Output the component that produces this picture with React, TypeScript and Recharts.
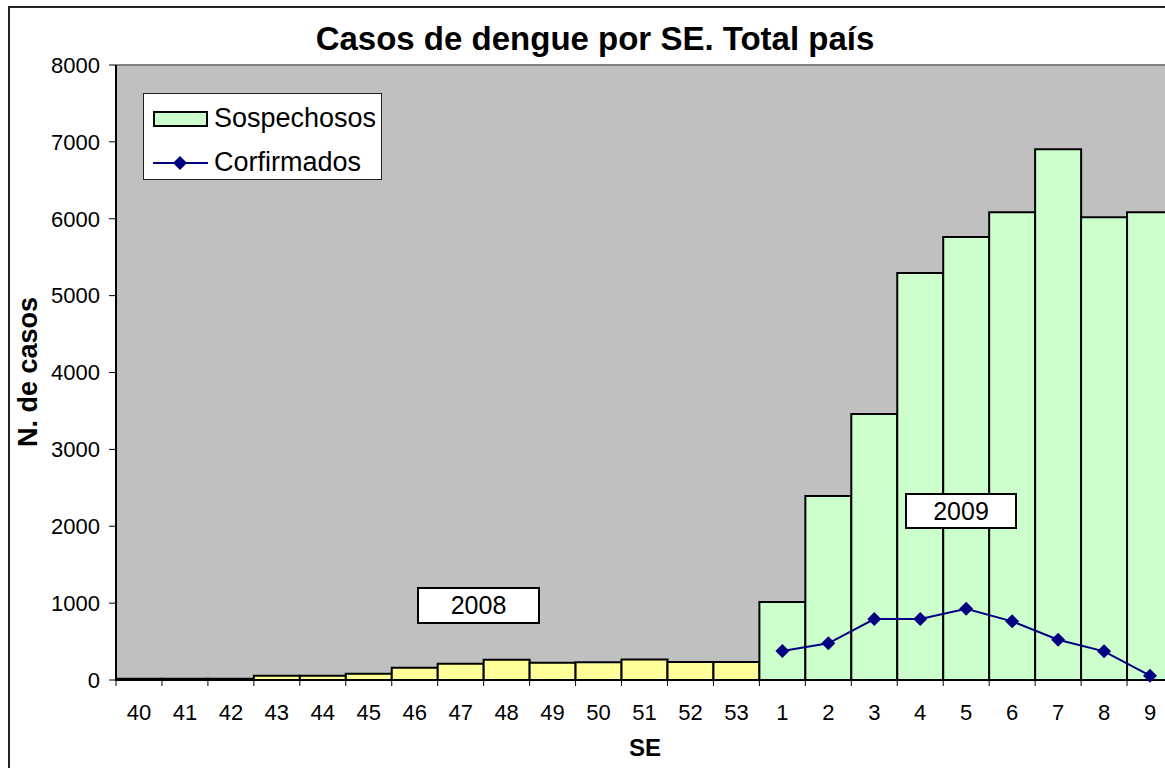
import { ComposedChart, Bar, Line, XAxis, YAxis, CartesianGrid, ReferenceLine, Cell } from 'recharts'

const weeks = ['40', '41', '42', '43', '44', '45', '46', '47', '48', '49', '50', '51', '52', '53', '1', '2', '3', '4', '5', '6', '7', '8', '9']
const years = ['2008', '2008', '2008', '2008', '2008', '2008', '2008', '2008', '2008', '2008', '2008', '2008', '2008', '2008', '2009', '2009', '2009', '2009', '2009', '2009', '2009', '2009', '2009']
const sospechosos = [15, 15, 15, 56, 56, 82, 160, 212, 262, 225, 230, 268, 234, 234, 1014, 2393, 3459, 5293, 5761, 6086, 6905, 6021, 6086]
const confirmados = [null, null, null, null, null, null, null, null, null, null, null, null, null, null, 377, 477, 793, 793, 927, 763, 524, 373, 56]
const yTicks = [0, 1000, 2000, 3000, 4000, 5000, 6000, 7000, 8000]

const data = weeks.map((se, i) => ({ se, year: years[i], sosp: sospechosos[i], conf: confirmados[i] }))

const FONT = '"Liberation Sans", Arial, sans-serif'
const W = 1200
const H = 760
const M = { top: 59, right: 35, bottom: 26, left: 0 }
const Y_W = 108
const BAND = (W - M.right - Y_W) / weeks.length

function XTick(props: any) {
  const { x, y, payload } = props
  return (
    <g>
      <line x1={x - BAND / 2} x2={x - BAND / 2} y1={y} y2={y + 6} stroke="#000" strokeWidth={1} />
      <text x={x} y={y + 40} textAnchor="middle" fontSize={22} fontFamily={FONT} fill="#000">
        {payload.value}
      </text>
    </g>
  )
}

function Diamond(props: any) {
  const { cx, cy } = props
  if (cy == null || isNaN(cy)) return null
  const r = 7
  return <polygon points={`${cx},${cy - r} ${cx + r},${cy} ${cx},${cy + r} ${cx - r},${cy}`} fill="#000080" />
}

export default function App() {
  return (
    <div style={{ position: 'absolute', left: 8, top: 6, width: 1157, height: 762, overflow: 'hidden', background: '#fff', fontFamily: FONT }}>
      <div style={{ position: 'absolute', left: 0, top: 16, width: 1174, textAlign: 'center', fontSize: 33, fontWeight: 'bold', lineHeight: '34px' }}>
        Casos de dengue por SE. Total país
      </div>
      <ComposedChart width={W} height={H} data={data} margin={M} barCategoryGap={0} style={{ position: 'absolute', left: 0, top: 0 }}>
        <CartesianGrid fill="#C0C0C0" horizontal={false} vertical={false} />
        <ReferenceLine y={8000} stroke="#808080" strokeWidth={2} />
        <XAxis
          dataKey="se"
          height={60}
          interval={0}
          tickLine={false}
          tickSize={0}
          tickMargin={0}
          tick={<XTick />}
          axisLine={{ stroke: '#000', strokeWidth: 2 }}
        />
        <YAxis
          width={Y_W}
          domain={[0, 8000]}
          ticks={yTicks}
          interval={0}
          tickSize={7}
          tickMargin={9}
          tickLine={{ stroke: '#000' }}
          axisLine={{ stroke: '#000', strokeWidth: 2 }}
          tick={{ fontSize: 22, fontFamily: FONT, fill: '#000' }}
        />
        <Bar dataKey="sosp" stroke="#000" strokeWidth={2} isAnimationActive={false}>
          {data.map((d, i) => (
            <Cell key={i} fill={d.year === '2008' ? '#FFFF99' : '#CCFFCC'} />
          ))}
        </Bar>
        <Line dataKey="conf" stroke="#000080" strokeWidth={2} dot={<Diamond />} activeDot={false} isAnimationActive={false} />
        <text x={20} y={366} transform="rotate(-90 20 366)" textAnchor="middle" dominantBaseline="central" fontSize={27} fontWeight="bold" fontFamily={FONT} fill="#000">
          N. de casos
        </text>
        <text x={637} y={741} textAnchor="middle" dominantBaseline="central" fontSize={24} fontWeight="bold" fontFamily={FONT} fill="#000">
          SE
        </text>
      </ComposedChart>
      <div style={{ position: 'absolute', left: 135, top: 87, width: 237, height: 85, background: '#fff', border: '1px solid #222' }}>
        <div style={{ position: 'absolute', left: 9, top: 17, width: 51, height: 12, background: '#CCFFCC', border: '2px solid #000' }} />
        <div style={{ position: 'absolute', left: 70, top: 6, fontSize: 27, lineHeight: '36px' }}>Sospechosos</div>
        <svg style={{ position: 'absolute', left: 9, top: 59 }} width={56} height={20}>
          <line x1={0} x2={55} y1={10} y2={10} stroke="#000080" strokeWidth={2} />
          <polygon points="27,3 34,10 27,17 20,10" fill="#000080" />
        </svg>
        <div style={{ position: 'absolute', left: 70, top: 50, fontSize: 27, lineHeight: '36px' }}>Corfirmados</div>
      </div>
      <div style={{ position: 'absolute', left: 409, top: 581, width: 119, height: 33, background: '#fff', border: '2px solid #000', fontSize: 25, lineHeight: '33px', textAlign: 'center' }}>
        2008
      </div>
      <div style={{ position: 'absolute', left: 897, top: 487, width: 108, height: 32, background: '#fff', border: '2px solid #000', fontSize: 25, lineHeight: '32px', textAlign: 'center' }}>
        2009
      </div>
      <div style={{ position: 'absolute', left: 0, top: 0, width: 2000, height: 2000, borderLeft: '2px solid #222', borderTop: '2px solid #222', pointerEvents: 'none' }} />
    </div>
  )
}
